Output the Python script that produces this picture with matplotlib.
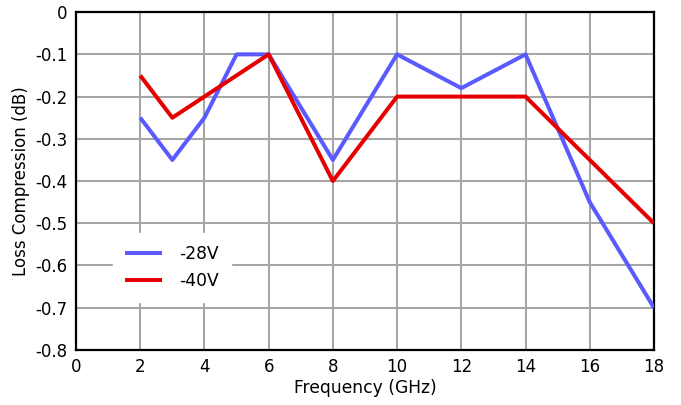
import numpy as np
import matplotlib
matplotlib.use("Agg")
import matplotlib.pyplot as plt

# donnees
freq_28 = [2, 3, 4, 5, 6, 8, 10, 12, 14, 16, 18]
loss_28 = [-0.25, -0.35, -0.25, -0.1, -0.1, -0.35, -0.1, -0.18, -0.1, -0.45, -0.7]
freq_40 = [2, 3, 4, 6, 8, 10, 12, 14, 16, 18]
loss_40 = [-0.15, -0.25, -0.2, -0.1, -0.4, -0.2, -0.2, -0.2, -0.35, -0.5]

x_ticks = np.arange(0, 19, 2)
y_ticks = np.round(np.arange(-0.8, 0.01, 0.1), 1)

plt.rcParams['font.family'] = ['DejaVu Sans']

fig = plt.figure(figsize=(6.81, 4.05), dpi=100)
ax = fig.add_axes([0.1116, 0.136, 0.8487, 0.834])

ax.plot(freq_28, loss_28, color="#5a5aff", lw=2.9, label="-28V", solid_capstyle="butt", zorder=3)
ax.plot(freq_40, loss_40, color="#e60000", lw=2.9, label="-40V", solid_capstyle="butt", zorder=3)

ax.set_xlim(0, 18)
ax.set_ylim(-0.8, 0)
ax.set_xticks(x_ticks)
ax.set_yticks(y_ticks)
ax.set_yticklabels(["0" if v == 0 else f"{v:.1f}" for v in y_ticks])
ax.tick_params(length=0, labelsize=12, pad=6)
ax.grid(True, color="#a6a6a6", lw=1.5)
ax.set_axisbelow(True)

for s in ax.spines.values():
    s.set_color("black")
    s.set_linewidth(1.6)

ax.set_xlabel("Frequency (GHz)", fontsize=12.3, labelpad=2)
ax.set_ylabel("Loss Compression (dB)", fontsize=12, labelpad=4)

leg = ax.legend(loc="upper left", bbox_to_anchor=(0.049, 0.37), fontsize=12.3,
                frameon=True, fancybox=False, handlelength=2.2, handletextpad=1.0,
                labelspacing=0.48, borderpad=0.7)
leg.get_frame().set_edgecolor("white")
leg.get_frame().set_facecolor("white")
leg.get_frame().set_alpha(1)

plt.savefig("out.png", dpi=100)
